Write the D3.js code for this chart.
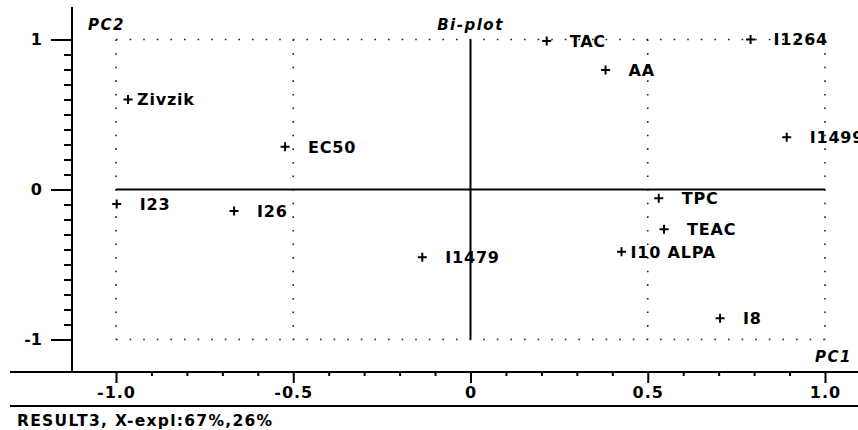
<!DOCTYPE html>
<html><head><meta charset="utf-8">
<script src="https://cdn.jsdelivr.net/npm/d3@7/dist/d3.min.js"></script>
<style>
html,body{margin:0;padding:0;background:#fff;}
svg{display:block;}
text{font-family:"DejaVu Sans",sans-serif;font-weight:bold;fill:#000;}
</style></head>
<body>
<svg id="chart" width="858" height="430"></svg>
<script>
// ---- data ----
const pointNames = ["Zivzik","EC50","TAC","I1264","AA","I1499","I23","I26","I1479","TPC","TEAC","I10 ALPA","I8"];
const pc1Values = [-0.966,-0.523,0.215,0.790,0.381,0.892,-0.998,-0.667,-0.136,0.531,0.546,0.426,0.704];
const pc2Values = [0.600,0.285,0.990,1.000,0.797,0.348,-0.097,-0.143,-0.452,-0.059,-0.265,-0.415,-0.859];
const xTickValues = [-1,-0.5,0,0.5,1];
const xTickLabels = ["-1.0","-0.5","0","0.5","1.0"];
const yTickValues = [-1,0,1];
const yTickLabels = ["-1","0","1"];
const titleText = "Bi-plot";
const xAxisTitle = "PC1";
const yAxisTitle = "PC2";
const footerText = "RESULT3, X-expl:67%,26%";

// ---- layout ----
const W = 858, H = 430;
const tightLabels = new Set(["Zivzik","I10 ALPA"]);
const svg = d3.select("#chart");
const x = d3.scaleLinear().domain([-1,1]).range([116,825]);
const y = d3.scaleLinear().domain([-1,1]).range([339.5,39.5]);
const axisY = 372, axisX = 72;

// dotted grid lines
const dotPeriod = 13.6;
const dotted = svg.append("g").attr("stroke","#222").attr("stroke-width",1.6)
  .attr("stroke-dasharray",`1.6,${dotPeriod-1.6}`).attr("fill","none");
[-1,-0.5,0.5,1].forEach(v=>{
  dotted.append("line").attr("x1",x(v)).attr("x2",x(v)).attr("y1",y(1)).attr("y2",y(-1));
});
[1,-1].forEach(v=>{
  dotted.append("line").attr("x1",x(-1)).attr("x2",x(1)).attr("y1",y(v)).attr("y2",y(v));
});

// solid centre lines
svg.append("line").attr("x1",x(-1)).attr("x2",x(1)).attr("y1",y(0)).attr("y2",y(0))
  .attr("stroke","#000").attr("stroke-width",2);
svg.append("line").attr("x1",x(0)).attr("x2",x(0)).attr("y1",y(1)).attr("y2",y(-1))
  .attr("stroke","#000").attr("stroke-width",2);

// y axis
const minorY = d3.range(-10,11).map(d=>d/10).filter(v=>!yTickValues.includes(v));
const gyMinor = svg.append("g").attr("transform",`translate(${axisX},0)`)
  .call(d3.axisLeft(y).tickValues(minorY).tickSize(8).tickFormat(""));
const gy = svg.append("g").attr("transform",`translate(${axisX},0)`)
  .call(d3.axisLeft(y).tickValues(yTickValues).tickSize(21).tickPadding(9)
    .tickFormat((d,i)=>yTickLabels[i]));
[gyMinor,gy].forEach(g=>{
  g.select(".domain").remove();
  g.selectAll(".tick line").attr("stroke","#000").attr("stroke-width",2);
});
gy.selectAll(".tick text").style("font-size","16px").style("font-family","DejaVu Sans").style("font-weight","bold").attr("fill","#000");
svg.append("line").attr("x1",axisX).attr("x2",axisX).attr("y1",7).attr("y2",axisY)
  .attr("stroke","#000").attr("stroke-width",2);

// x axis
const minorX = d3.range(-10,11).map(d=>d/10).filter(v=>!xTickValues.some(t=>Math.abs(t-v)<1e-9));
const gxMinor = svg.append("g").attr("transform",`translate(0,${axisY})`)
  .call(d3.axisBottom(x).tickValues(minorX).tickSize(4).tickFormat(""));
const gx = svg.append("g").attr("transform",`translate(0,${axisY})`)
  .call(d3.axisBottom(x).tickValues(xTickValues).tickSize(11).tickPadding(4)
    .tickFormat((d,i)=>xTickLabels[i]));
[gxMinor,gx].forEach(g=>{
  g.select(".domain").remove();
  g.selectAll(".tick line").attr("stroke","#000").attr("stroke-width",2);
});
gx.selectAll(".tick text").style("font-size","16px").style("letter-spacing","1px").style("font-family","DejaVu Sans").style("font-weight","bold").attr("fill","#000");
svg.append("line").attr("x1",10).attr("x2",W).attr("y1",axisY).attr("y2",axisY)
  .attr("stroke","#000").attr("stroke-width",2);
svg.append("line").attr("x1",10).attr("x2",W).attr("y1",406).attr("y2",406)
  .attr("stroke","#000").attr("stroke-width",2);

// titles
svg.append("text").attr("x",x(0)).attr("y",30).attr("text-anchor","middle")
  .style("font-size","15px").style("font-style","italic").style("letter-spacing","1.5px").text(titleText);
svg.append("text").attr("x",88).attr("y",30)
  .style("font-size","15px").style("font-style","italic").style("letter-spacing","1.5px").text(yAxisTitle);
svg.append("text").attr("x",852).attr("y",362).attr("text-anchor","end")
  .style("font-size","15px").style("font-style","italic").style("letter-spacing","1.5px").text(xAxisTitle);
svg.append("text").attr("x",17).attr("y",426)
  .style("font-size","15.5px").style("letter-spacing","1.3px").text(footerText);

// points
const pts = pointNames.map((n,i)=>({name:n,px:pc1Values[i],py:pc2Values[i]}));
const pg = svg.append("g").selectAll("g").data(pts).join("g")
  .attr("transform",d=>`translate(${x(d.px)},${y(d.py)})`);
pg.append("path").attr("d","M-4.5,0H4.5M0,-4.5V4.5").attr("stroke","#000").attr("stroke-width",2);
pg.append("text").attr("x",d=>tightLabels.has(d.name)?9:23).attr("dy","0.36em")
  .style("font-size","16px").style("letter-spacing","0.8px").text(d=>d.name);
</script>
</body></html>
